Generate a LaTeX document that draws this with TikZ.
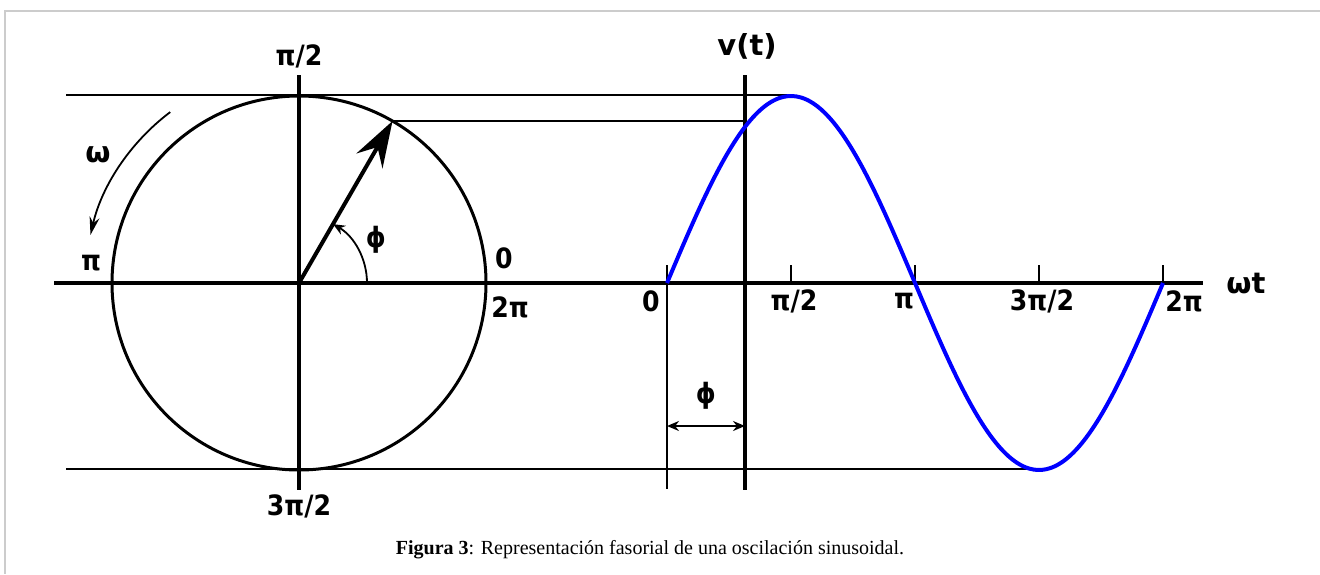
\documentclass[tikz,border=0pt]{standalone}
\usepackage{fontspec}
\setmainfont{Liberation Serif}
\newfontfamily\labfont{DejaVu Sans Condensed}
\newfontfamily\blabfont{DejaVu Sans}
\usetikzlibrary{arrows.meta,calc}
\begin{document}
\begin{tikzpicture}[x=0.5pt,y=-0.5pt,
  axis/.style={line width=2.3pt},
  thinline/.style={line width=0.9pt},
  circ/.style={line width=1.5pt},
  lab/.style={font=\labfont\bfseries\fontsize{14}{16}\selectfont, inner sep=0pt},
  blab/.style={font=\blabfont\bfseries\fontsize{14.5}{16}\selectfont, inner sep=0pt},
  wave/.style={draw=blue, line width=2pt},
  frame/.style={draw=black!20, line width=0.8pt}]
\useasboundingbox (0,0) rectangle (1320,574);
\draw[frame] (1320,11) -- (5,11) -- (5,574);
% coordinates
\coordinate (O) at (299,283);
\coordinate (axL) at (54,283);
\coordinate (axR) at (1203,283);
\coordinate (vaT) at (299,75);
\coordinate (vaB) at (299,490);
\coordinate (wT) at (745,75);
\coordinate (wB) at (745,490);
\coordinate (zT) at (667,265);
\coordinate (zB) at (667,489);
\coordinate (P) at ($(O)+(-60:187)$);
\coordinate (Pv) at (745,121);
\coordinate (topL) at (66,95);
\coordinate (peak) at (791,95);
\coordinate (botL) at (66,469);
\coordinate (trough) at (1039,469);
\coordinate (dimL) at (667,426);
\coordinate (dimR) at (745,426);
% reference lines
\draw[thinline] (topL) -- (peak);
\draw[thinline] (botL) -- (trough);
\draw[thinline] (P) -- (Pv);
% circle
\draw[circ] (O) circle[radius=187];
% axes
\draw[axis] (axL) -- (axR);
\draw[axis] (vaT) -- (vaB);
\draw[axis] (wT) -- (wB);
\draw[thinline] (zT) -- (zB);
\foreach \t/\n in {791/a,915/b,1039/c,1163/d}{
  \coordinate (t\n) at (\t,265);
  \coordinate (b\n) at (\t,283);
  \draw[thinline] (t\n) -- (b\n);
}
% sine
\draw[wave] plot[domain=0:360,samples=120,smooth] ({667+\x*1.377778},{283-187*sin(\x)});
% phasor
\draw[line width=2pt, -{Stealth[length=23pt,width=15pt,inset=8pt]}] (O) -- (P);
% phi arc
\coordinate (phA) at ($(O)+(0:68)$);
\draw[thinline, -{Stealth[length=6pt,width=5pt]}] (phA) arc[start angle=0,end angle=-60,radius=68];
% omega arc
\coordinate (omA) at ($(O)+(-127:214)$);
\draw[thinline, -{Stealth[length=9pt,width=5pt]}] (omA) arc[start angle=-127,end angle=-167,radius=214];
% phase dimension
\draw[thinline, {Stealth[length=6pt,width=5pt]}-{Stealth[length=6pt,width=5pt]}] (dimL) -- (dimR);
% labels
\node[lab] (l1) at (299,56) {π/2};
\node[lab] (l2) at (299,506) {3π/2};
\node[lab] (l3) at (91,263) {π};
\node[lab] (l4) at (504,258) {0};
\node[lab] (l5) at (510,307) {2π};
\node[blab] (l6) at (98,155) {ω};
\node[lab] (l7) at (376,240) {ϕ};
\node[blab] (l8) at (747,46) {v(t)};
\node[blab] (l9) at (1246,284) {ωt};
\node[lab] (l10) at (651,301) {0};
\node[lab] (l11) at (794,301) {π/2};
\node[lab] (l12) at (904,301) {π};
\node[lab] (l13) at (1042,301) {3π/2};
\node[lab] (l14) at (1184,301) {2π};
\node[lab] (l15) at (706,396) {ϕ};
\node[font=\fontsize{10}{12}\selectfont, inner sep=0pt] (cap) at (650,550) {\textbf{Figura 3}: Representación fasorial de una oscilación sinusoidal.};
\end{tikzpicture}
\end{document}
